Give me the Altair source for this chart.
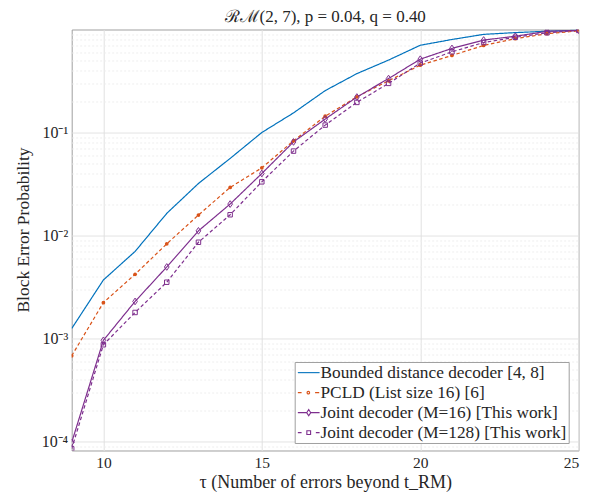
import altair as alt
import pandas as pd

# ---------------- data ----------------
tau = list(range(9, 26))
bdd = [1.25e-3, 3.7e-3, 7.0e-3, 1.64e-2, 3.2e-2, 5.6e-2, 0.100, 0.155, 0.255,
       0.373, 0.505, 0.703, 0.80, 0.897, 0.933, 0.962, 0.985]
pcld = [6.8e-4, 2.23e-3, 4.2e-3, 8.3e-3, 1.58e-2, 2.93e-2, 4.54e-2, 0.083, 0.144,
        0.222, 0.318, 0.45, 0.56, 0.70, 0.815, 0.91, 0.97]
m16 = [9.8e-5, 9.6e-4, 2.29e-3, 4.95e-3, 1.11e-2, 2.02e-2, 0.040, 0.081, 0.135,
       0.221, 0.334, 0.515, 0.655, 0.79, 0.86, 0.96, 0.98]
m128 = [8.5e-5, 8.7e-4, 1.79e-3, 3.52e-3, 8.6e-3, 1.59e-2, 0.0332, 0.066, 0.118,
        0.196, 0.30, 0.472, 0.607, 0.748, 0.84, 0.93, 0.98]

names = ["Bounded distance decoder [4, 8]",
         "PCLD (List size 16) [6]",
         "Joint decoder (M=16) [This work]",
         "Joint decoder (M=128) [This work]"]
colors = ["#0072BD", "#D95319", "#7E2F8E", "#7E2F8E"]
dashes = [[1, 0], [3.5, 2.5], [1, 0], [3.5, 2.5]]

x_ticks = [10, 15, 20, 25]
y_major = [1e-4, 1e-3, 1e-2, 1e-1]
y_major_labels = ["10⁻⁴", "10⁻³", "10⁻²", "10⁻¹"]

title_text = "ℛℳ(2, 7), p = 0.04, q = 0.40"
x_title = "τ (Number of errors beyond t_RM)"
y_title = "Block Error Probability"

rows = []
for name, vals in zip(names, [bdd, pcld, m16, m128]):
    for t, v in zip(tau, vals):
        rows.append({"tau": t, "p": v, "series": name})
df = pd.DataFrame(rows)

# ---------------- style ----------------
FONT = "Liberation Serif"
TXT = "#262626"
x_domain = [9, 25]
y_domain = [8.18e-5, 1.0]

y_grid_vals = [m * 10.0 ** e for e in range(-5, 0) for m in range(1, 10)
               if y_domain[0] <= m * 10.0 ** e < 1.0]

major_test = "abs(log(datum.value)/LN10 - round(log(datum.value)/LN10)) < 1e-6"
label_expr = ""
for v, lab in zip(y_major, y_major_labels):
    label_expr += f"abs(datum.value/{v} - 1) < 1e-6 ? '{lab}' : "
label_expr += "''"

xs = alt.Scale(domain=x_domain, nice=False, zero=False)
ys = alt.Scale(type="log", domain=y_domain, nice=False)

xaxis = alt.Axis(values=x_ticks, title=x_title, grid=True, gridColor="#e1e1e1",
                 ticks=False, domain=False, format="d",
                 labelFont=FONT, labelFontSize=15.5, labelColor=TXT, labelPadding=5,
                 titleFont=FONT, titleFontSize=18, titleFontWeight="normal",
                 titleColor=TXT, titlePadding=3)
yaxis = alt.Axis(values=y_grid_vals, labelExpr=label_expr, title=y_title,
                 grid=True,
                 gridColor={"condition": {"test": major_test, "value": "#e1e1e1"},
                            "value": "#eeeeee"},
                 gridDash={"condition": {"test": major_test, "value": [1, 0]},
                           "value": [2, 2]},
                 ticks=False, domain=False, labelOverlap=False,
                 labelFont=FONT, labelFontSize=16, labelColor=TXT, labelPadding=4,
                 titleFont=FONT, titleFontSize=17.5, titleFontWeight="normal",
                 titleColor=TXT, titlePadding=9, titleY=200)

X = alt.X("tau:Q", scale=xs, axis=xaxis)
Y = alt.Y("p:Q", scale=ys, axis=yaxis)

lines = alt.Chart(df).mark_line(strokeWidth=1.2, clip=True).encode(
    x=X, y=Y,
    color=alt.Color("series:N", scale=alt.Scale(domain=names, range=colors), legend=None),
    strokeDash=alt.StrokeDash("series:N", scale=alt.Scale(domain=names, range=dashes),
                              legend=None),
)

dots = alt.Chart(df).transform_filter(alt.datum.series == names[1]).mark_point(
    filled=True, shape="circle", size=14, color=colors[1], opacity=1, clip=True
).encode(x=X, y=Y)

diamond_path = "M0,-1L0.7,0L0,1L-0.7,0Z"
purple = alt.Chart(df).transform_filter(
    alt.FieldOneOfPredicate(field="series", oneOf=names[2:])
).mark_point(filled=False, color=colors[2], strokeWidth=1, opacity=1, clip=True).encode(
    x=X, y=Y,
    shape=alt.Shape("series:N", scale=alt.Scale(domain=names[2:], range=[diamond_path, "square"]),
                    legend=None),
    size=alt.Size("series:O", scale=alt.Scale(domain=names[2:], range=[45, 20]), legend=None),
)

legend_paths = [
    "M-1,0H1.9",
    "M-1,0H-0.5M1.3,0H1.85M0.57,0A0.17,0.17,0,1,1,0.23,0A0.17,0.17,0,1,1,0.57,0Z",
    "M-1,0H0.18M0.72,0H1.9M0.45,-0.42L0.72,0L0.45,0.42L0.18,0Z",
    "M-1,0H-0.5M1.4,0H1.9M0.2,-0.25H0.7V0.25H0.2Z",
]
leg_def = dict(title=None, orient="none", legendX=223, legendY=332.5,
               labelFont=FONT, labelFontSize=17.3, labelColor=TXT, labelLimit=400,
               symbolSize=225, symbolStrokeWidth=1.1, symbolOpacity=1,
               strokeColor="#a0a0a0", fillColor="white", padding=2,
               rowPadding=2, labelOffset=6.5)

legend_layer = alt.Chart(df).transform_filter("datum.tau < 0").mark_point(
    filled=False, opacity=1, strokeWidth=1.1
).encode(
    x=X, y=Y,
    color=alt.Color("series:N", scale=alt.Scale(domain=names, range=colors),
                    legend=alt.Legend(**leg_def)),
    shape=alt.Shape("series:N", scale=alt.Scale(domain=names, range=legend_paths),
                    legend=alt.Legend(**leg_def)),
)

chart = alt.layer(lines, dots, purple, legend_layer).resolve_scale(
    color="independent", shape="independent", strokeDash="independent", size="independent"
).properties(
    width=507, height=421,
    title=alt.TitleParams(text=title_text, font=FONT, fontSize=17, fontWeight="normal",
                          color=TXT, offset=0, anchor="middle"),
    autosize=alt.AutoSizeParams(type="none"),
    padding={"left": 63.7, "top": 21.5, "right": 14, "bottom": 45},
).configure_view(stroke="#a0a0a0", strokeWidth=1)

chart.save("out.html", embed_options={"renderer": "svg", "actions": False})
